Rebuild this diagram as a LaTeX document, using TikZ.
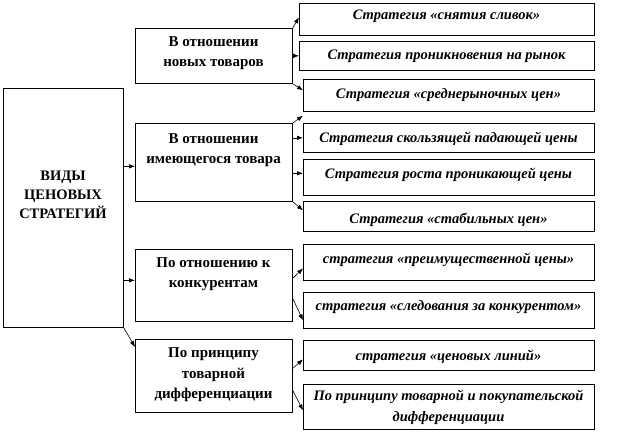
\documentclass[tikz,border=0pt]{standalone}
\usepackage{fontspec}
\setmainfont{Liberation Serif}
\usetikzlibrary{arrows.meta,calc}
\begin{document}
\begin{tikzpicture}[x=1pt,y=-1pt,
  box/.style={draw=black,line width=0.7pt,inner sep=0pt,anchor=north west},
  midtxt/.style={align=center,inner sep=0pt,font=\bfseries\fontsize{15}{20}\selectfont},
  rtxt/.style={align=center,font=\bfseries\itshape\fontsize{14.5}{21}\selectfont},
  conn/.style={line width=0.6pt,-{Latex[length=6pt,width=4.5pt]}}]
\useasboundingbox (0,0) rectangle (627,441);
% main box
\node[box,minimum width=120pt,minimum height=239pt] (main) at (3,88) {};
\node[midtxt,font=\bfseries\fontsize{14.5}{19}\selectfont] (mainlbl) at (63,195) {ВИДЫ\\ЦЕНОВЫХ\\СТРАТЕГИЙ};
% middle boxes
\node[box,minimum width=157pt,minimum height=55pt] (m1) at (135,28) {};
\node[midtxt] (m1lbl) at (213.5,53) {В отношении\\новых товаров};
\node[box,minimum width=157pt,minimum height=78pt] (m2) at (135,123) {};
\node[midtxt] (m2lbl) at (213.5,150) {В отношении\\имеющегося  товара};
\node[box,minimum width=157pt,minimum height=72pt] (m3) at (135,249) {};
\node[midtxt] (m3lbl) at (213.5,274) {По отношению к\\конкурентам};
\node[box,minimum width=157pt,minimum height=73pt] (m4) at (135,339) {};
\node[midtxt,font=\bfseries\fontsize{15}{20.5}\selectfont] (m4lbl) at (213.5,375) {По принципу\\товарной\\дифференциации};
% right boxes
\node[box,minimum width=295pt,minimum height=32pt] (r1) at (299,3) {};
\node[rtxt] (r1lbl) at (446.5,16.5) {Стратегия «снятия сливок»};
\node[box,minimum width=295pt,minimum height=29pt] (r2) at (299,41) {};
\node[rtxt] (r2lbl) at (446.5,56.5) {Стратегия проникновения на рынок};
\node[box,minimum width=291pt,minimum height=32pt] (r3) at (303,79) {};
\node[rtxt] (r3lbl) at (448.5,95.5) {Стратегия «среднерыночных цен»};
\node[box,minimum width=291pt,minimum height=29pt] (r4) at (303,123) {};
\node[rtxt] (r4lbl) at (448.5,138.5) {Стратегия скользящей падающей цены};
\node[box,minimum width=291pt,minimum height=36pt] (r5) at (303,159) {};
\node[rtxt] (r5lbl) at (448.5,174.5) {Стратегия роста  проникающей  цены};
\node[box,minimum width=291pt,minimum height=30pt] (r6) at (303,201) {};
\node[rtxt] (r6lbl) at (448.5,219.5) {Стратегия «стабильных цен»};
\node[box,minimum width=291pt,minimum height=36pt] (r7) at (303,244) {};
\node[rtxt] (r7lbl) at (448.5,259.5) {стратегия «преимущественной цены»};
\node[box,minimum width=291pt,minimum height=36pt] (r8) at (303,292) {};
\node[rtxt] (r8lbl) at (448.5,307.5) {стратегия «следования за конкурентом»};
\node[box,minimum width=291pt,minimum height=30pt] (r9) at (303,340) {};
\node[rtxt] (r9lbl) at (448.5,356.5) {стратегия «ценовых линий»};
\node[box,minimum width=291pt,minimum height=45pt] (r10) at (303,384) {};
\node[rtxt] (r10lbl) at (448.5,407.5) {По принципу товарной и покупательской\\дифференциации};
% connectors main -> middle
\draw[conn] ([yshift=-4pt]m2.west -| main.east) -- ([yshift=-4pt]m2.west);
\draw[conn] ([yshift=5pt]m3.west -| main.east) -- ([yshift=5pt]m3.west);
\draw[conn] (main.south east) -- ([yshift=-8pt]m4.north west);
% m1
\draw[conn] (m1.north east) -- ([yshift=2pt]r1.west);
\draw[conn] (m1.east) -- (r2.west);
\draw[conn] (m1.south east) -- ([yshift=5pt]r3.west);
% m2
\draw[conn] (m2.north east) -- ([yshift=-4pt]r3.south west);
\draw[conn] (r4.west -| m2.east) -- (r4.west);
\draw[conn] ([yshift=4pt]r5.west -| m2.east) -- ([yshift=4pt]r5.west);
\draw[conn] (m2.south east) -- ([yshift=6pt]r6.west);
% m3
\draw[conn] ([yshift=7pt]m3.east) -- ([yshift=-6pt]r7.west);
\draw[conn] ([yshift=-13pt]m3.east) -- ([yshift=-10pt]r8.west);
% m4
\draw[conn] ([yshift=7.5pt]m4.east) -- ([yshift=-4pt]r9.west);
\draw[conn] ([yshift=-14.5pt]m4.east) -- ([yshift=-3.5pt]r10.west);
\end{tikzpicture}
\end{document}
